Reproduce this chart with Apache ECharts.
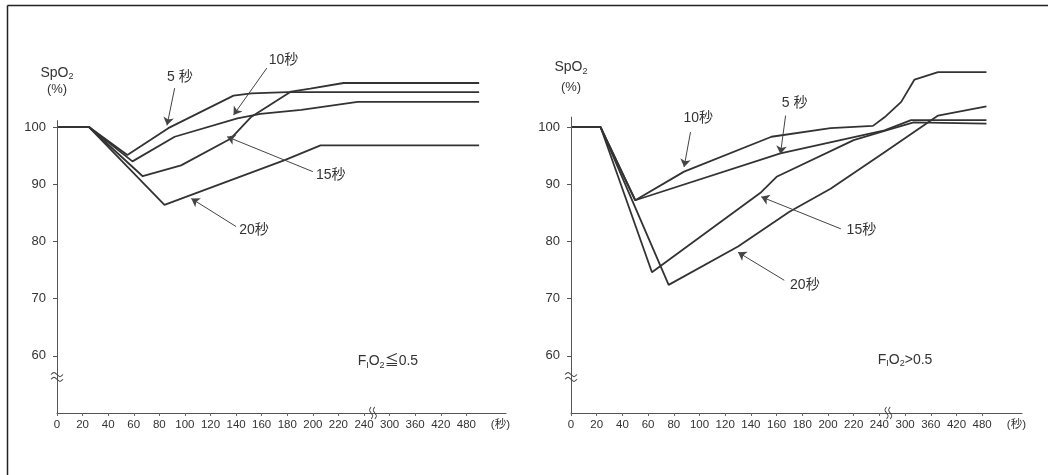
<!DOCTYPE html>
<html><head><meta charset="utf-8">
<script src="https://cdn.jsdelivr.net/npm/echarts@6/dist/echarts.min.js"></script>
<style>html,body{margin:0;padding:0;background:#fff}#c{width:1048px;height:475px}</style>
</head><body><div id="c"></div><script>
// ---------- data ----------
const xTickSeconds = [0,20,40,60,80,100,120,140,160,180,200,220,240,300,360,420,480];
const xTickLabels  = ['0','20','40','60','80','100','120','140','160','180','200','220','240','300','360','420','480'];
const yTickValues  = [60,70,80,90,100];

// left panel: FiO2 <= 0.5  (time in seconds, SpO2 %)
const L5_t  = [0,25,55,87,138,152,180,510];
const L5_v  = [100,100,95.1,99.8,105.5,105.9,106.1,106.1];
const L10_t = [0,25,59,92,141,159,191,235,510];
const L10_v = [100,100,94.0,98.3,101.5,102.3,103.0,104.4,104.4];
const L15_t = [0,25,67,97,136,152,183,198,224,510];
const L15_v = [100,100,91.4,93.3,98.0,101.8,106.2,106.7,107.7,107.7];
const L20_t = [0,25,84,178,206,510];
const L20_v = [100,100,86.4,94.2,96.8,96.8];

// right panel: FiO2 > 0.5
const R5_t  = [0,23,50,163,252,314,490];
const R5_v  = [100,100,87.2,95.4,99.4,101.2,101.2];
const R10_t = [0,23,50,88,156,202,235,252,291,322,377,490];
const R10_v = [100,100,87.2,92.2,98.3,99.8,100.2,101.7,104.4,108.3,109.6,109.6];
const R15_t = [0,23,63,148,160,220,260,320,490];
const R15_v = [100,100,74.6,88.6,91.3,97.7,99.5,100.8,100.6];
const R20_t = [0,23,76,130,170,202,252,338,377,490];
const R20_v = [100,100,72.4,79.1,85.2,89.2,95.6,100.0,102.0,103.6];

const seriesNames = ['5 秒','10秒','15秒','20秒'];

// ---------- annotations (data space: seconds, %) ----------
const annotations = [
  // left panel
  {panel:0, text:'5 秒', at:[96,108.8],  from:[92,106.8],  to:[86,100.3]},
  {panel:0, text:'10秒', at:[177,111.7], from:[164,110.3], to:[138,102.1]},
  {panel:0, text:'15秒', at:[214,91.6],  from:[200,92.2],  to:[133,98.3]},
  {panel:0, text:'20秒', at:[154,82.0],  from:[140,82.6],  to:[105,87.5]},
  // right panel
  {panel:1, text:'10秒', at:[99,101.5],  from:[93,99.1],   to:[88,93.0]},
  {panel:1, text:'5 秒', at:[174,104.1], from:[167,102.0], to:[163,95.3]},
  {panel:1, text:'15秒', at:[226,81.9],  from:[210,82.2],  to:[148,87.8]},
  {panel:1, text:'20秒', at:[182,72.3],  from:[166,73.2],  to:[130,78.1]}
];

// ---------- helpers ----------
function toAxis(t){ return t <= 240 ? t/20 : 12 + (t-240)/60; }
function pts(ts, vs){ return ts.map((t,i)=>[toAxis(t), vs[i]]); }
const LINE = '#333';
const FONT = "'Liberation Sans','Noto Sans CJK JP',sans-serif";

const panels = [
  {series:[[L5_t,L5_v],[L10_t,L10_v],[L15_t,L15_v],[L20_t,L20_v]], cond:'{n|F}{s|I}{n|O}{s|2}{n|≦0.5}', condAt:[296,59.0], axisTop:101.2, spo:[0,109.5], pct:[0,106.6]},
  {series:[[R5_t,R5_v],[R10_t,R10_v],[R15_t,R15_v],[R20_t,R20_v]], cond:'{n|F}{s|I}{n|O}{s|2}{n|>0.5}', condAt:[300,59.3], axisTop:101.8, spo:[0,110.4], pct:[0,106.9]}
];

const xCustom = xTickSeconds.map(toAxis);
const grids = [
  {left:57, top:58.4, width:449, height:354.6, outerBoundsMode:'none'},
  {left:571, top:58.4, width:451, height:354.6, outerBoundsMode:'none'}
];

const rich = {
  n:{fontSize:14, color:'#333', fontFamily:FONT},
  s:{fontSize:9, color:'#333', fontFamily:FONT, padding:[7,0,0,0]}
};

const xAxes = grids.map((g,i)=>({
  type:'value', gridIndex:i, min:0, max:17.55, interval:1,
  splitLine:{show:false},
  axisLine:{show:true, lineStyle:{color:'#555', width:1}},
  axisTick:{show:true, length:3, customValues:xCustom, lineStyle:{color:'#666'}},
  axisLabel:{customValues:xCustom, margin:6, fontSize:11.5, color:'#333', fontFamily:FONT,
    formatter:(v)=>{ const k = xCustom.findIndex(c=>Math.abs(c-v)<1e-6); return k>=0 ? xTickLabels[k] : ''; }},
  name:'(秒)', nameLocation:'end', nameGap:4,
  nameTextStyle:{fontSize:11.5, color:'#333', fontFamily:FONT, align:'right', verticalAlign:'top', padding:[6,0,0,0]}
}));

const yAxes = grids.map((g,i)=>({
  type:'value', gridIndex:i, min:50, max:112, interval:10,
  splitLine:{show:false},
  axisLine:{show:false},
  axisTick:{show:true, length:4, customValues:yTickValues, lineStyle:{color:'#555'}},
  axisLabel:{customValues:yTickValues, margin:11, fontSize:13, color:'#333', fontFamily:FONT}
}));

const series = [];
panels.forEach((p,pi)=>{
  p.series.forEach((s,si)=>{
    const ser = {
      type:'line', name:seriesNames[si], xAxisIndex:pi, yAxisIndex:pi,
      data:pts(s[0], s[1]), symbol:'none', smooth:false,
      lineStyle:{color:LINE, width:1.8}, silent:true, z:3
    };
    const ann = annotations.filter(a=>a.panel===pi && a.text===seriesNames[si])[0];
    if (ann){
      ser.markLine = {
        silent:true, symbol:['none','arrow'], symbolSize:8, animation:false,
        label:{show:false},
        lineStyle:{color:'#444', width:1, type:'solid'},
        data:[[{coord:[toAxis(ann.from[0]), ann.from[1]]},{coord:[toAxis(ann.to[0]), ann.to[1]]}]]
      };
      ser.markPoint = {
        silent:true, symbol:'circle', symbolSize:0, animation:false,
        label:{show:true, position:'inside', fontSize:14, color:'#333', fontFamily:FONT},
        data:[{coord:[toAxis(ann.at[0]), ann.at[1]], label:{formatter:ann.text}}]
      };
    }
    series.push(ser);
  });
  // axis-decoration helper series (y-axis line, breaks, texts)
  series.push({
    type:'line', xAxisIndex:pi, yAxisIndex:pi, data:[], silent:true,
    markLine:{silent:true, symbol:['none','none'], animation:false, label:{show:false},
      lineStyle:{color:'#555', width:1, type:'solid'},
      data:[[{coord:[0,50]},{coord:[0,p.axisTop]}]]},
    markPoint:{silent:true, animation:false,
      data:[
        {coord:[0,56.3], symbol:'path://M0,3 C3,0 3,0 6,3 C9,6 9,6 12,3 M0,8 C3,5 3,5 6,8 C9,11 9,11 12,8',
          symbolSize:[12,9], itemStyle:{color:'rgba(0,0,0,0)', borderColor:'#444', borderWidth:1}, label:{show:false}},
        {coord:[12.35,50], symbol:'path://M3,0 C0,3 0,3 3,6 C6,9 6,9 3,12 M8,0 C5,3 5,3 8,6 C11,9 11,9 8,12',
          symbolSize:[7,12], itemStyle:{color:'rgba(0,0,0,0)', borderColor:'#444', borderWidth:1}, label:{show:false}},
        {coord:[toAxis(p.condAt[0]), p.condAt[1]], symbol:'circle', symbolSize:0,
          label:{show:true, position:'inside', formatter:p.cond, rich:rich}},
        {coord:p.spo, symbol:'circle', symbolSize:0,
          label:{show:true, position:'inside', formatter:'{n|SpO}{s|2}', rich:rich}},
        {coord:p.pct, symbol:'circle', symbolSize:0,
          label:{show:true, position:'inside', formatter:'(%)', fontSize:13, color:'#333', fontFamily:FONT}}
      ]}
  });
});

const chart = echarts.init(document.getElementById('c'), null, {renderer:'canvas'});
chart.setOption({
  animation:false,
  backgroundColor:'#fff',
  grid:grids,
  xAxis:xAxes,
  yAxis:yAxes,
  series:series,
  graphic:[
    {type:'line', shape:{x1:7.5,y1:5.5,x2:1048,y2:5.5}, style:{stroke:'#222', lineWidth:1.5}, silent:true},
    {type:'line', shape:{x1:7.5,y1:5.5,x2:7.5,y2:475}, style:{stroke:'#222', lineWidth:1.5}, silent:true}
  ]
});
</script></body></html>
